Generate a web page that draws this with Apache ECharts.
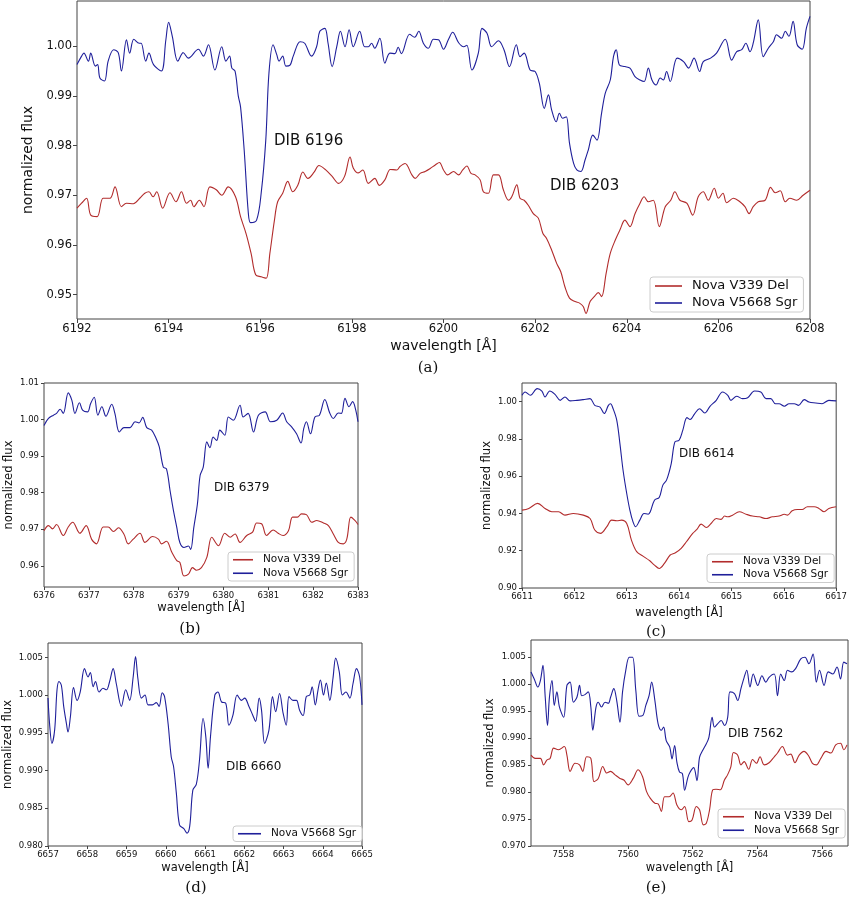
<!DOCTYPE html>
<html>
<head>
<meta charset="utf-8">
<script src="https://cdn.jsdelivr.net/npm/echarts@6/dist/echarts.min.js"></script>
<style>
html, body {margin:0; padding:0; background:#fff;}
#chart {width:850px; height:900px;}
</style>
</head>
<body>
<div id="chart"></div>
<script>
// spectra, [wavelength (A), normalized flux]
var seriesNames = ['Nova V339 Del', 'Nova V5668 Sgr'];

// (a) DIB 6196 / 6203
var a_sgr = [[6192.0,0.9963],[6192.1,0.998],[6192.15,0.9986],[6192.25,0.997],[6192.3,0.9986],[6192.4,0.996],[6192.45,0.9963],[6192.5,0.9936],[6192.6,0.993],[6192.68,0.997],[6192.8,0.9993],[6192.9,0.9987],[6192.97,0.995],[6193.08,1.0013],[6193.15,0.9986],[6193.24,1.0014],[6193.36,1.0006],[6193.4,1.0006],[6193.5,0.997],[6193.57,0.9986],[6193.67,0.9963],[6193.84,0.995],[6193.94,1.0013],[6194.0,1.0048],[6194.08,1.002],[6194.2,0.997],[6194.32,0.9987],[6194.43,0.9976],[6194.65,0.9994],[6194.76,0.998],[6194.87,1.0003],[6195.01,0.9952],[6195.16,0.9999],[6195.25,0.997],[6195.33,0.998],[6195.38,0.9956],[6195.45,0.995],[6195.52,0.990],[6195.57,0.9878],[6195.65,0.979],[6195.74,0.9664],[6195.79,0.9645],[6195.92,0.965],[6196.02,0.9704],[6196.12,0.981],[6196.19,0.9946],[6196.28,1.0003],[6196.36,0.9983],[6196.41,0.997],[6196.49,0.998],[6196.56,0.996],[6196.65,0.9962],[6196.72,0.998],[6196.87,1.0009],[6196.97,1.0006],[6197.12,0.998],[6197.23,0.9999],[6197.3,1.003],[6197.41,1.0036],[6197.48,1.0006],[6197.57,0.9959],[6197.67,0.9999],[6197.75,1.003],[6197.85,0.9999],[6197.94,1.0033],[6198.03,0.9999],[6198.17,1.003],[6198.28,0.9999],[6198.36,0.9999],[6198.43,1.0006],[6198.5,0.9996],[6198.61,1.0016],[6198.72,0.9966],[6198.83,0.9986],[6198.94,0.9985],[6199.01,0.9998],[6199.08,0.9985],[6199.26,1.0024],[6199.37,1.0018],[6199.46,1.003],[6199.56,1.0006],[6199.67,0.9996],[6199.78,1.0014],[6199.89,1.0013],[6200.0,0.9994],[6200.11,1.0014],[6200.2,1.0028],[6200.33,1.0007],[6200.44,0.9999],[6200.51,1.0002],[6200.62,0.9952],[6200.76,0.9986],[6200.84,1.0036],[6200.95,1.0026],[6201.05,0.9999],[6201.2,1.0011],[6201.32,0.9993],[6201.44,0.9959],[6201.59,1.0003],[6201.67,0.9979],[6201.76,0.9986],[6201.89,0.9952],[6202.0,0.9949],[6202.09,0.9926],[6202.2,0.9875],[6202.29,0.9902],[6202.36,0.9872],[6202.46,0.9848],[6202.53,0.9865],[6202.6,0.9855],[6202.68,0.9858],[6202.75,0.9805],[6202.84,0.9764],[6202.91,0.9751],[6203.0,0.9748],[6203.09,0.9771],[6203.16,0.9791],[6203.26,0.9821],[6203.35,0.9811],[6203.45,0.9865],[6203.53,0.9905],[6203.64,0.9932],[6203.71,0.9979],[6203.77,0.9993],[6203.84,0.9962],[6203.96,0.9959],[6204.07,0.9956],[6204.18,0.9939],[6204.29,0.9932],[6204.38,0.9929],[6204.47,0.9956],[6204.55,0.9932],[6204.64,0.9922],[6204.73,0.9936],[6204.8,0.9932],[6204.87,0.9949],[6204.95,0.9929],[6205.1,0.9976],[6205.24,0.9969],[6205.35,0.9956],[6205.47,0.9976],[6205.59,0.9949],[6205.67,0.9969],[6205.83,0.9976],[6205.96,0.9986],[6206.15,1.0014],[6206.29,0.9972],[6206.4,0.9989],[6206.51,0.9993],[6206.6,1.0006],[6206.69,0.9989],[6206.76,1.0006],[6206.87,1.0053],[6206.98,0.9979],[6207.09,0.9996],[6207.2,1.0009],[6207.27,1.0023],[6207.38,1.0016],[6207.46,1.003],[6207.54,1.002],[6207.63,1.005],[6207.72,1.0003],[6207.83,0.9994],[6207.92,1.0036],[6208.0,1.006]];
var a_del = [[6192.0,0.9674],[6192.1,0.9684],[6192.21,0.9694],[6192.3,0.966],[6192.44,0.9657],[6192.57,0.9694],[6192.72,0.9694],[6192.83,0.9717],[6192.97,0.9677],[6193.08,0.9684],[6193.23,0.9683],[6193.37,0.9694],[6193.48,0.9704],[6193.57,0.9707],[6193.66,0.9697],[6193.74,0.9707],[6193.87,0.9674],[6194.03,0.9705],[6194.16,0.9687],[6194.28,0.9707],[6194.39,0.9684],[6194.48,0.969],[6194.55,0.9677],[6194.67,0.969],[6194.77,0.9677],[6194.9,0.9717],[6195.04,0.9711],[6195.16,0.97],[6195.3,0.9717],[6195.46,0.9697],[6195.57,0.9657],[6195.69,0.9623],[6195.8,0.9583],[6195.9,0.954],[6196.02,0.9536],[6196.13,0.9533],[6196.21,0.9583],[6196.31,0.965],[6196.38,0.9687],[6196.49,0.9704],[6196.6,0.9728],[6196.71,0.9707],[6196.82,0.972],[6196.93,0.9747],[6197.04,0.9734],[6197.18,0.9747],[6197.28,0.976],[6197.43,0.9751],[6197.57,0.9738],[6197.71,0.9724],[6197.84,0.9738],[6197.96,0.9777],[6198.03,0.9755],[6198.14,0.9745],[6198.24,0.9751],[6198.36,0.9724],[6198.5,0.9734],[6198.6,0.972],[6198.72,0.9731],[6198.84,0.9752],[6198.98,0.9751],[6199.05,0.9758],[6199.16,0.9764],[6199.31,0.9741],[6199.38,0.9734],[6199.49,0.9744],[6199.6,0.9748],[6199.71,0.9754],[6199.82,0.9761],[6199.91,0.9766],[6200.0,0.9751],[6200.09,0.9741],[6200.22,0.9748],[6200.33,0.9741],[6200.42,0.9751],[6200.51,0.9759],[6200.6,0.9744],[6200.69,0.9741],[6200.8,0.9731],[6200.87,0.9707],[6200.98,0.9704],[6201.09,0.9741],[6201.2,0.9741],[6201.31,0.971],[6201.42,0.969],[6201.49,0.9697],[6201.6,0.9721],[6201.67,0.9694],[6201.76,0.969],[6201.85,0.968],[6201.96,0.9663],[6202.07,0.9654],[6202.17,0.9623],[6202.25,0.9613],[6202.36,0.959],[6202.47,0.9563],[6202.56,0.9546],[6202.65,0.9516],[6202.75,0.9493],[6202.87,0.9486],[6202.97,0.9483],[6203.05,0.9476],[6203.11,0.9462],[6203.2,0.9486],[6203.29,0.9496],[6203.38,0.9504],[6203.45,0.9496],[6203.55,0.9543],[6203.64,0.9583],[6203.75,0.961],[6203.85,0.963],[6203.96,0.965],[6204.07,0.9637],[6204.18,0.9663],[6204.29,0.9684],[6204.38,0.9697],[6204.47,0.9687],[6204.58,0.969],[6204.71,0.9637],[6204.84,0.9677],[6204.96,0.969],[6205.05,0.9707],[6205.16,0.969],[6205.31,0.9684],[6205.44,0.966],[6205.56,0.9697],[6205.67,0.9707],[6205.78,0.969],[6205.91,0.9714],[6206.0,0.9694],[6206.1,0.9704],[6206.18,0.9685],[6206.33,0.9694],[6206.47,0.9687],[6206.58,0.9677],[6206.67,0.9663],[6206.76,0.9677],[6206.87,0.9687],[6207.02,0.969],[6207.14,0.9716],[6207.24,0.9705],[6207.35,0.9709],[6207.46,0.9687],[6207.56,0.9694],[6207.71,0.969],[6207.85,0.97],[6208.0,0.971]];

// (b) DIB 6379
var b_sgr = [[6376.0,0.9984],[6376.1,1.0003],[6376.21,1.0012],[6376.28,1.0017],[6376.36,1.0028],[6376.43,1.0017],[6376.54,1.0073],[6376.62,1.0053],[6376.69,1.0017],[6376.79,1.0046],[6376.86,1.0026],[6376.97,1.0021],[6377.04,1.0044],[6377.12,1.0061],[6377.2,1.0012],[6377.29,1.0035],[6377.38,1.0009],[6377.51,1.0042],[6377.58,1.0017],[6377.68,0.9966],[6377.78,0.9978],[6377.92,0.9978],[6378.03,0.9994],[6378.12,0.9991],[6378.2,1.0006],[6378.29,0.9978],[6378.4,0.9971],[6378.5,0.9948],[6378.57,0.9925],[6378.66,0.987],[6378.73,0.9865],[6378.81,0.9806],[6378.88,0.9755],[6378.96,0.9705],[6379.03,0.9663],[6379.12,0.965],[6379.22,0.9654],[6379.27,0.9645],[6379.34,0.9705],[6379.42,0.9769],[6379.48,0.9847],[6379.55,0.987],[6379.63,0.9939],[6379.7,0.9923],[6379.77,0.9952],[6379.85,0.9943],[6379.92,0.9971],[6380.03,0.9957],[6380.11,1.0007],[6380.22,0.9998],[6380.37,1.0039],[6380.44,1.0007],[6380.55,1.0017],[6380.67,0.9966],[6380.78,1.0012],[6380.93,1.0021],[6381.05,0.9994],[6381.19,0.9998],[6381.32,1.0018],[6381.41,0.9994],[6381.52,0.998],[6381.63,0.9961],[6381.73,0.9936],[6381.79,0.9975],[6381.85,0.9994],[6381.94,0.9961],[6382.04,1.0007],[6382.14,1.0012],[6382.26,1.0055],[6382.37,1.0018],[6382.45,1.0003],[6382.56,1.0018],[6382.63,1.0017],[6382.71,1.0058],[6382.8,1.0035],[6382.88,1.0049],[6382.95,1.0026],[6383.0,0.9994]];
var b_del = [[6376.0,0.9696],[6376.1,0.971],[6376.19,0.9701],[6376.28,0.9713],[6376.43,0.9683],[6376.54,0.9706],[6376.64,0.9719],[6376.8,0.9689],[6376.94,0.971],[6377.06,0.9673],[6377.17,0.966],[6377.32,0.9706],[6377.43,0.9706],[6377.55,0.9694],[6377.66,0.9704],[6377.78,0.9687],[6377.88,0.966],[6377.99,0.9673],[6378.14,0.9689],[6378.25,0.9664],[6378.42,0.968],[6378.55,0.9673],[6378.62,0.966],[6378.73,0.9667],[6378.85,0.9637],[6378.96,0.9614],[6379.03,0.9609],[6379.12,0.9572],[6379.22,0.9577],[6379.31,0.9595],[6379.4,0.9588],[6379.51,0.9595],[6379.63,0.9623],[6379.74,0.9678],[6379.89,0.9655],[6380.03,0.9689],[6380.15,0.9678],[6380.26,0.9687],[6380.37,0.9664],[6380.52,0.9683],[6380.65,0.9692],[6380.74,0.9717],[6380.85,0.9715],[6380.96,0.9683],[6381.11,0.9698],[6381.22,0.9689],[6381.33,0.9683],[6381.45,0.9696],[6381.54,0.9733],[6381.65,0.9733],[6381.74,0.9742],[6381.85,0.974],[6381.97,0.9719],[6382.08,0.9724],[6382.23,0.9717],[6382.34,0.971],[6382.45,0.9687],[6382.56,0.9664],[6382.67,0.966],[6382.75,0.9673],[6382.84,0.9733],[6382.93,0.9724],[6383.0,0.9713]];

// (c) DIB 6614
var c_sgr = [[6611.0,1.0034],[6611.06,1.0052],[6611.16,1.0034],[6611.29,1.007],[6611.38,1.0057],[6611.44,1.0025],[6611.53,1.0057],[6611.63,1.0039],[6611.73,1.0007],[6611.82,1.0025],[6611.92,1.0004],[6612.05,1.0007],[6612.17,1.0011],[6612.3,1.0016],[6612.39,0.998],[6612.49,0.9971],[6612.57,0.9936],[6612.65,0.998],[6612.69,0.9989],[6612.74,0.9962],[6612.81,0.99],[6612.87,0.9775],[6612.93,0.9632],[6613.0,0.9507],[6613.06,0.9418],[6613.12,0.9355],[6613.17,0.9329],[6613.25,0.9364],[6613.33,0.94],[6613.41,0.9396],[6613.45,0.9409],[6613.53,0.9471],[6613.62,0.9486],[6613.69,0.9552],[6613.76,0.9579],[6613.85,0.9668],[6613.92,0.9784],[6614.0,0.9793],[6614.07,0.9846],[6614.15,0.9914],[6614.21,0.9904],[6614.3,0.9936],[6614.39,0.9962],[6614.49,0.9939],[6614.59,0.9975],[6614.71,1.0007],[6614.83,1.0052],[6614.93,1.0034],[6614.99,1.0007],[6615.1,1.0029],[6615.21,1.0016],[6615.31,1.0021],[6615.44,1.0057],[6615.56,1.0052],[6615.66,1.0016],[6615.75,1.0016],[6615.84,0.9989],[6615.91,0.9989],[6616.01,0.9975],[6616.1,0.9989],[6616.2,0.9989],[6616.28,0.998],[6616.39,1.0011],[6616.48,0.9998],[6616.61,0.9993],[6616.73,0.9989],[6616.86,1.0007],[6617.0,1.0004]];
var c_del = [[6611.0,0.9418],[6611.13,0.9427],[6611.3,0.9454],[6611.44,0.9427],[6611.57,0.9409],[6611.7,0.9409],[6611.82,0.9391],[6611.98,0.94],[6612.17,0.9391],[6612.3,0.9373],[6612.39,0.9311],[6612.5,0.9293],[6612.62,0.9329],[6612.71,0.9364],[6612.81,0.9361],[6612.9,0.9364],[6613.0,0.9346],[6613.09,0.9257],[6613.19,0.9195],[6613.31,0.9171],[6613.44,0.9146],[6613.53,0.9123],[6613.62,0.9105],[6613.72,0.9132],[6613.83,0.9177],[6613.93,0.9189],[6614.04,0.9213],[6614.14,0.9248],[6614.26,0.9293],[6614.34,0.9314],[6614.42,0.9343],[6614.52,0.9325],[6614.61,0.9346],[6614.71,0.9373],[6614.8,0.9368],[6614.87,0.9386],[6614.93,0.9382],[6615.02,0.9391],[6615.15,0.9409],[6615.28,0.9396],[6615.4,0.9386],[6615.53,0.9382],[6615.66,0.9373],[6615.78,0.9382],[6615.91,0.9386],[6616.01,0.9396],[6616.07,0.9391],[6616.16,0.9414],[6616.26,0.9421],[6616.35,0.9421],[6616.45,0.9436],[6616.58,0.9436],[6616.67,0.9427],[6616.77,0.9409],[6616.86,0.9427],[6617.0,0.9436]];

// (d) DIB 6660, only V5668 Sgr
var d_sgr = [[6657.0,0.9996],[6657.04,0.9962],[6657.1,0.9936],[6657.17,0.9954],[6657.23,1.0007],[6657.28,1.0018],[6657.34,1.0013],[6657.4,0.9985],[6657.47,0.9962],[6657.51,0.9951],[6657.57,0.9971],[6657.65,1.001],[6657.74,0.9993],[6657.82,1.0004],[6657.93,1.0035],[6658.02,1.0024],[6658.08,1.003],[6658.15,1.0011],[6658.21,1.0018],[6658.3,1.0004],[6658.4,1.0009],[6658.49,1.0007],[6658.57,1.0018],[6658.66,1.0035],[6658.74,1.0015],[6658.87,0.9985],[6658.98,1.0007],[6659.08,0.9993],[6659.17,1.0024],[6659.23,1.0051],[6659.29,1.0022],[6659.38,0.9996],[6659.47,1.0],[6659.55,0.9987],[6659.66,0.9987],[6659.76,0.999],[6659.83,0.9985],[6659.91,1.0003],[6659.97,0.9998],[6660.06,0.9962],[6660.14,0.9918],[6660.2,0.9905],[6660.27,0.987],[6660.35,0.9828],[6660.46,0.9823],[6660.54,0.9817],[6660.61,0.9826],[6660.69,0.9874],[6660.78,0.9882],[6660.86,0.9914],[6660.95,0.9969],[6661.02,0.9945],[6661.08,0.9903],[6661.14,0.9945],[6661.25,1.0],[6661.33,1.0004],[6661.42,0.9991],[6661.53,0.9989],[6661.61,0.996],[6661.71,0.9973],[6661.82,1.0],[6661.93,0.9993],[6662.01,0.9996],[6662.12,0.9985],[6662.22,0.9973],[6662.29,0.9965],[6662.38,0.9996],[6662.44,0.998],[6662.52,0.9936],[6662.63,0.9954],[6662.72,0.9998],[6662.8,0.9978],[6662.9,1.0002],[6662.99,0.9976],[6663.07,0.996],[6663.14,0.9998],[6663.24,0.9993],[6663.33,0.9993],[6663.41,0.998],[6663.5,0.9973],[6663.58,0.9998],[6663.67,1.0],[6663.73,1.0011],[6663.81,0.9987],[6663.88,1.0007],[6663.94,1.002],[6664.02,1.0],[6664.09,1.0016],[6664.18,0.9993],[6664.26,1.0022],[6664.33,1.0049],[6664.42,1.0031],[6664.5,1.0],[6664.59,1.0004],[6664.69,0.9996],[6664.77,1.0015],[6664.86,1.0035],[6664.94,1.0024],[6665.0,0.9987]];

// (e) DIB 7562
var e_sgr = [[7557.0,1.0022],[7557.1,1.0009],[7557.21,0.9994],[7557.29,1.0006],[7557.37,1.0034],[7557.44,0.9975],[7557.51,0.9923],[7557.57,0.9975],[7557.65,1.0006],[7557.72,0.996],[7557.8,0.9985],[7557.88,0.9957],[7558.01,0.9938],[7558.11,0.9997],[7558.21,1.0003],[7558.31,0.9966],[7558.42,0.9975],[7558.5,0.9997],[7558.57,0.9978],[7558.67,0.998],[7558.77,0.9985],[7558.85,0.9957],[7558.91,0.9914],[7559.01,0.9957],[7559.08,0.9966],[7559.18,0.9957],[7559.29,0.9966],[7559.39,0.9964],[7559.46,0.9975],[7559.56,0.9991],[7559.65,0.9969],[7559.75,0.9929],[7559.83,0.9985],[7559.93,1.0025],[7560.04,1.0049],[7560.14,1.0049],[7560.24,0.9988],[7560.34,0.994],[7560.45,0.9941],[7560.55,0.996],[7560.65,0.9978],[7560.73,1.0003],[7560.83,0.9969],[7560.93,0.9926],[7561.03,0.9914],[7561.1,0.992],[7561.18,0.9895],[7561.29,0.9883],[7561.36,0.9861],[7561.44,0.9886],[7561.51,0.9855],[7561.59,0.9837],[7561.68,0.9834],[7561.75,0.9803],[7561.85,0.9827],[7561.92,0.9837],[7562.03,0.9845],[7562.13,0.9821],[7562.21,0.9864],[7562.31,0.9877],[7562.42,0.9889],[7562.5,0.9901],[7562.6,0.9938],[7562.67,0.992],[7562.77,0.9926],[7562.88,0.9932],[7562.98,0.9923],[7563.08,0.9938],[7563.15,0.9985],[7563.29,0.9982],[7563.39,0.9969],[7563.49,0.9991],[7563.59,1.0012],[7563.67,1.0025],[7563.77,0.9994],[7563.87,1.0018],[7564.01,0.9997],[7564.14,1.0015],[7564.26,1.0003],[7564.36,1.0012],[7564.52,1.0018],[7564.62,0.9978],[7564.72,1.0018],[7564.83,1.0006],[7564.93,1.0025],[7565.06,1.0022],[7565.18,1.0028],[7565.34,1.0046],[7565.47,1.0049],[7565.59,1.0037],[7565.72,1.0055],[7565.82,1.0003],[7565.92,1.0025],[7566.06,0.9997],[7566.19,1.0022],[7566.33,1.0018],[7566.46,1.0031],[7566.57,1.0009],[7566.67,1.004],[7566.77,1.0037]];
var e_del = [[7557.0,0.9868],[7557.13,0.9862],[7557.29,0.9862],[7557.39,0.985],[7557.49,0.9859],[7557.59,0.9862],[7557.7,0.9881],[7557.85,0.9878],[7558.03,0.9884],[7558.11,0.9868],[7558.21,0.9838],[7558.36,0.9853],[7558.5,0.985],[7558.6,0.9838],[7558.72,0.9865],[7558.85,0.9862],[7558.95,0.9819],[7559.08,0.9825],[7559.22,0.9847],[7559.34,0.9835],[7559.46,0.9838],[7559.59,0.9832],[7559.75,0.9825],[7559.87,0.9822],[7560.0,0.9813],[7560.16,0.9825],[7560.31,0.9841],[7560.45,0.9828],[7560.57,0.9801],[7560.69,0.9788],[7560.83,0.9779],[7560.93,0.9778],[7561.03,0.9764],[7561.13,0.9791],[7561.27,0.9791],[7561.39,0.9798],[7561.51,0.9776],[7561.65,0.9767],[7561.75,0.9773],[7561.88,0.9745],[7561.98,0.9748],[7562.11,0.9773],[7562.21,0.9767],[7562.33,0.9739],[7562.42,0.9742],[7562.52,0.9767],[7562.62,0.9804],[7562.72,0.9805],[7562.85,0.9804],[7562.98,0.9822],[7563.08,0.9832],[7563.18,0.9847],[7563.26,0.9873],[7563.39,0.9868],[7563.49,0.985],[7563.59,0.9856],[7563.73,0.9842],[7563.85,0.986],[7563.97,0.9853],[7564.08,0.9865],[7564.21,0.985],[7564.36,0.9854],[7564.52,0.9865],[7564.62,0.9872],[7564.77,0.9884],[7564.93,0.9868],[7565.03,0.987],[7565.16,0.9854],[7565.29,0.9868],[7565.44,0.9875],[7565.58,0.9867],[7565.7,0.9853],[7565.82,0.985],[7565.96,0.9862],[7566.12,0.9875],[7566.27,0.9872],[7566.42,0.9887],[7566.57,0.989],[7566.67,0.9878],[7566.77,0.9887]];

var delColor = '#b22c2c';
var sgrColor = '#1f1f9a';
var sans = '"DejaVu Sans", sans-serif';

var panels = [
	{box:[77, 1, 733, 318], x:[6192, 6208, 2], y:[0.9451, 1.0091, 0.01], ydec:2,
	 tick:11.5, name:14, xgap:20, ygap:33, del:a_del, sgr:a_sgr,
	 legend:{left:650, top:277, font:13, w:27, gap:3, lh:14},
	 dib:[{t:'DIB 6196', x:274, y:141}, {t:'DIB 6203', x:550, y:186}], dibFont:15,
	 cap:{t:'(a)', x:428, y:368}},
	{box:[44, 383, 314, 204], x:[6376, 6383, 1], y:[0.9542, 1.01, 0.01], ydec:2,
	 tick:8.5, name:11.5, xgap:15, ygap:29, del:b_del, sgr:b_sgr,
	 legend:{left:228, top:552, font:10.5, w:20, gap:2, lh:11.5},
	 dib:[{t:'DIB 6379', x:214, y:488}], dibFont:12,
	 cap:{t:'(b)', x:190, y:629}},
	{box:[522, 383, 315, 205], x:[6611, 6617, 1], y:[0.90, 1.01, 0.02], ydec:2,
	 tick:8.5, name:11.5, xgap:19, ygap:29, del:c_del, sgr:c_sgr,
	 legend:{left:707, top:554, font:10.5, w:21, gap:1.5, lh:11.5},
	 dib:[{t:'DIB 6614', x:679, y:454}], dibFont:12,
	 cap:{t:'(c)', x:656, y:632}},
	{box:[48, 643, 314, 203], x:[6657, 6665, 1], y:[0.98, 1.0069, 0.005], ydec:3,
	 tick:8.5, name:11.5, xgap:16, ygap:34, del:null, sgr:d_sgr,
	 legend:{left:233, top:826, font:10.5, w:23, gap:2, lh:11.5},
	 dib:[{t:'DIB 6660', x:226, y:767}], dibFont:12,
	 cap:{t:'(d)', x:196, y:888}},
	{box:[531, 640, 317, 206], x:[7557, 7566.8, 2], y:[0.97, 1.0081, 0.005], ydec:3,
	 tick:8.5, name:11.5, xgap:16, ygap:35, del:e_del, sgr:e_sgr,
	 legend:{left:718, top:809, font:10.5, w:21, gap:2, lh:11.5},
	 dib:[{t:'DIB 7562', x:728, y:734}], dibFont:12,
	 cap:{t:'(e)', x:656, y:888}}
];

// ticks on a "nice" grid even when the axis edge is not a multiple of the step
function onStep(v, step){
	return Math.abs(v/step - Math.round(v/step)) < 1e-6;
}

function makeAxis(range, p, isX, index){
	var step = range[2];
	var axis = {
		type: 'value', gridIndex: index, min: range[0], max: range[1],
		minInterval: step, maxInterval: step,
		axisLine: {show: false},
		axisTick: {show: true, length: p.tick > 10 ? 4 : 3, lineStyle: {color: '#444'}},
		splitLine: {show: false},
		axisLabel: {
			fontSize: p.tick, fontFamily: sans, color: '#111', margin: isX ? 4 : 5,
			showMinLabel: onStep(range[0], step), showMaxLabel: onStep(range[1], step),
			formatter: function(v){ return isX ? String(Math.round(v)) : v.toFixed(p.ydec); }
		},
		name: isX ? 'wavelength [Å]' : 'normalized flux',
		nameLocation: 'middle',
		nameGap: isX ? p.xgap : p.ygap,
		nameTextStyle: {fontSize: p.name, fontFamily: sans, color: '#111'}
	};
	if (onStep(range[0], step)) {
		axis.interval = step;
	}
	return axis;
}

var option = {
	backgroundColor: '#fff',
	animation: false,
	grid: [], xAxis: [], yAxis: [], series: [], legend: [], graphic: []
};

for (var i = 0; i < panels.length; i++){
	var p = panels[i];
	option.grid.push({left: p.box[0], top: p.box[1], width: p.box[2], height: p.box[3],
		show: true, borderColor: '#444', borderWidth: 1, backgroundColor: 'transparent'});
	option.xAxis.push(makeAxis(p.x, p, true, i));
	option.yAxis.push(makeAxis(p.y, p, false, i));
	var names = [];
	if (p.del){
		option.series.push({type:'line', name: seriesNames[0], xAxisIndex:i, yAxisIndex:i,
			data: p.del, symbol:'none', smooth:0.35, clip:true,
			lineStyle:{width:1.1, color: delColor}, itemStyle:{color: delColor}});
		names.push(seriesNames[0]);
	}
	option.series.push({type:'line', name: seriesNames[1], xAxisIndex:i, yAxisIndex:i,
		data: p.sgr, symbol:'none', smooth:0.35, clip:true,
		lineStyle:{width:1.1, color: sgrColor}, itemStyle:{color: sgrColor}});
	names.push(seriesNames[1]);

	var lg = p.legend;
	option.legend.push({
		data: names, orient: 'vertical', left: lg.left, top: lg.top,
		icon: 'rect', itemWidth: lg.w, itemHeight: 1.6, itemGap: lg.gap,
		padding: [2, 6, 2, 5], borderColor: '#ccc', borderWidth: 1, borderRadius: 3,
		backgroundColor: 'rgba(255,255,255,0.85)', selectedMode: false,
		textStyle: {fontSize: lg.font, fontFamily: sans, color: '#111', lineHeight: lg.lh,
			padding: [0, 0, 0, 5]}
	});

	for (var k = 0; k < p.dib.length; k++){
		option.graphic.push({type:'text', x: p.dib[k].x, y: p.dib[k].y, z: 10,
			style:{text: p.dib[k].t, fontSize: p.dibFont, fontFamily: sans, fill:'#111',
				align:'left', verticalAlign:'middle'}});
	}
	option.graphic.push({type:'text', x: p.cap.x, y: p.cap.y,
		style:{text: p.cap.t, fontSize: 15, fontFamily: '"DejaVu Serif", serif', fill:'#111',
			align:'center', verticalAlign:'middle'}});
}

var myChart = echarts.init(document.getElementById('chart'));
myChart.setOption(option);
</script>
</body>
</html>
